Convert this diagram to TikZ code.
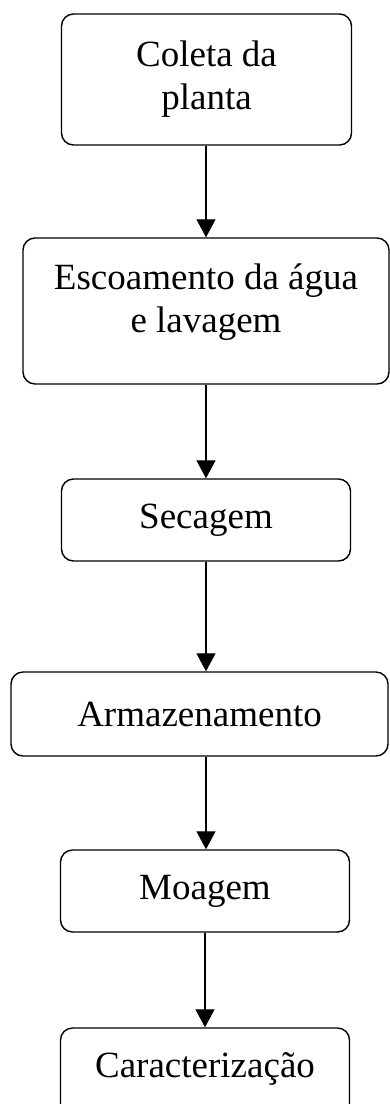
\documentclass[tikz,border=0pt]{standalone}
\usepackage{fontspec}
\setmainfont{Liberation Serif}
\usetikzlibrary{arrows.meta}

\begin{document}
\begin{tikzpicture}[x=1pt,y=-1pt,
    etapa/.style={draw,rounded corners=12pt,line width=1.4pt,align=center,
      font=\fontsize{37}{43}\selectfont,inner sep=0pt},
    fluxo/.style={line width=1.2pt,-{Triangle[width=19pt,length=18pt]}}]

    \useasboundingbox (0,0) rectangle (390,1104);

    \node [etapa,minimum width=290pt,minimum height=131pt] (coleta) at (206.5,79.5) {Coleta da\\planta};
    \node [etapa,minimum width=366pt,minimum height=146pt,text depth=26pt] (escoa) at (206,311) {Escoamento da água\\e lavagem};
    \node [etapa,minimum width=289pt,minimum height=82pt] (secagem) at (206,520) {Secagem};
    \node [etapa,minimum width=377pt,minimum height=84pt] (armaz) at (199.5,714) {Armazenamento};
    \node [etapa,minimum width=289pt,minimum height=82pt] (moagem) at (205,891) {Moagem};
    \node [etapa,minimum width=289pt,minimum height=96pt,text depth=22pt] (caract) at (205,1076) {Caracterização};

    \draw [fluxo] (escoa.north |- coleta.south) -- (escoa.north);
    \draw [fluxo] (escoa.south) -- (escoa.south |- secagem.north);
    \draw [fluxo] (secagem.south) -- (secagem.south |- armaz.north);
    \draw [fluxo] (secagem.south |- armaz.south) -- (secagem.south |- moagem.north);
    \draw [fluxo] (moagem.south) -- (moagem.south |- caract.north);

\end{tikzpicture}
\end{document}
